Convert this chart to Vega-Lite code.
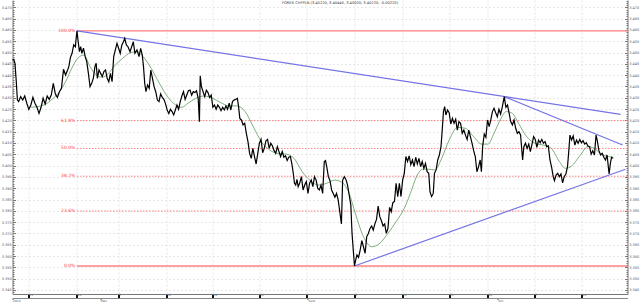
{
"$schema":"https://vega.github.io/schema/vega-lite/v6.json",
"width":615,"height":294,
"autosize":{"type":"none"},
"padding":{"left":12.5,"top":0,"right":12.5,"bottom":8},
"background":"white",
"config":{"view":{"stroke":null},"axis":{"labelFont":"DejaVu Sans","labelFontSize":3.5,"labelColor":"#555","domainColor":"#888","tickColor":"#888","labelOverlap":false,"labelBound":false,"labelFlush":false}},
"title":{"text":"FOREX CHFPLN (3.40220, 3.40440, 3.40020, 3.40220, -0.00220)","font":"DejaVu Sans","fontSize":3.6,"fontWeight":"normal","color":"#333","anchor":"middle","offset":-6,"dx":20},
"datasets":{
"price":[
{"bar":0,"price":3.4467},{"bar":3,"price":3.4470},{"bar":6,"price":3.4453},{"bar":9,"price":3.4379},{"bar":12,"price":3.4290},{"bar":15,"price":3.4283},{"bar":20,"price":3.4305},{"bar":25,"price":3.4290},{"bar":30,"price":3.4308},{"bar":35,"price":3.4276},{"bar":40,"price":3.4249},{"bar":45,"price":3.4268},{"bar":50,"price":3.4302},{"bar":55,"price":3.4276},{"bar":60,"price":3.4258},{"bar":65,"price":3.4231},{"bar":70,"price":3.4258},{"bar":75,"price":3.4298},{"bar":80,"price":3.4273},{"bar":85,"price":3.4308},{"bar":90,"price":3.4293},{"bar":95,"price":3.4312},{"bar":100,"price":3.4364},{"bar":105,"price":3.4317},{"bar":110,"price":3.4302},{"bar":115,"price":3.4327},{"bar":120,"price":3.4342},{"bar":125,"price":3.4426},{"bar":130,"price":3.4401},{"bar":135,"price":3.4423},{"bar":138,"price":3.4438},{"bar":142,"price":3.4479},{"bar":146,"price":3.4497},{"bar":150,"price":3.4534},{"bar":154,"price":3.4526},{"bar":156,"price":3.4563},{"bar":158,"price":3.4596},{"bar":161,"price":3.4548},{"bar":164,"price":3.4504},{"bar":167,"price":3.4526},{"bar":170,"price":3.4497},{"bar":174,"price":3.4520},{"bar":178,"price":3.4482},{"bar":182,"price":3.4460},{"bar":186,"price":3.4408},{"bar":190,"price":3.4349},{"bar":194,"price":3.4364},{"bar":198,"price":3.4386},{"bar":202,"price":3.4438},{"bar":205,"price":3.4453},{"bar":208,"price":3.4386},{"bar":212,"price":3.4423},{"bar":216,"price":3.4408},{"bar":220,"price":3.4394},{"bar":224,"price":3.4416},{"bar":228,"price":3.4423},{"bar":232,"price":3.4386},{"bar":236,"price":3.4371},{"bar":240,"price":3.4408},{"bar":244,"price":3.4371},{"bar":248,"price":3.4482},{"bar":252,"price":3.4512},{"bar":256,"price":3.4541},{"bar":260,"price":3.4519},{"bar":264,"price":3.4497},{"bar":268,"price":3.4534},{"bar":272,"price":3.4548},{"bar":275,"price":3.4563},{"bar":279,"price":3.4534},{"bar":283,"price":3.4526},{"bar":288,"price":3.4504},{"bar":292,"price":3.4526},{"bar":296,"price":3.4548},{"bar":300,"price":3.4497},{"bar":305,"price":3.4512},{"bar":310,"price":3.4482},{"bar":314,"price":3.4519},{"bar":318,"price":3.4489},{"bar":321,"price":3.4438},{"bar":324,"price":3.4364},{"bar":327,"price":3.4327},{"bar":331,"price":3.4357},{"bar":335,"price":3.4342},{"bar":339,"price":3.4423},{"bar":343,"price":3.4386},{"bar":347,"price":3.4349},{"bar":351,"price":3.4327},{"bar":355,"price":3.4290},{"bar":359,"price":3.4283},{"bar":363,"price":3.4317},{"bar":367,"price":3.4302},{"bar":371,"price":3.4293},{"bar":375,"price":3.4273},{"bar":379,"price":3.4246},{"bar":383,"price":3.4231},{"bar":387,"price":3.4249},{"bar":391,"price":3.4239},{"bar":395,"price":3.4224},{"bar":399,"price":3.4246},{"bar":403,"price":3.4268},{"bar":407,"price":3.4249},{"bar":411,"price":3.4283},{"bar":415,"price":3.4308},{"bar":419,"price":3.4327},{"bar":423,"price":3.4293},{"bar":427,"price":3.4312},{"bar":431,"price":3.4331},{"bar":435,"price":3.4334},{"bar":439,"price":3.4312},{"bar":443,"price":3.4327},{"bar":447,"price":3.4323},{"bar":451,"price":3.4331},{"bar":455,"price":3.4298},{"bar":458,"price":3.4194},{"bar":460,"price":3.4397},{"bar":463,"price":3.4349},{"bar":467,"price":3.4327},{"bar":471,"price":3.4305},{"bar":475,"price":3.4334},{"bar":479,"price":3.4323},{"bar":483,"price":3.4302},{"bar":487,"price":3.4312},{"bar":491,"price":3.4258},{"bar":495,"price":3.4268},{"bar":499,"price":3.4249},{"bar":503,"price":3.4268},{"bar":507,"price":3.4258},{"bar":511,"price":3.4243},{"bar":515,"price":3.4258},{"bar":519,"price":3.4246},{"bar":523,"price":3.4264},{"bar":527,"price":3.4249},{"bar":531,"price":3.4276},{"bar":535,"price":3.4246},{"bar":539,"price":3.4283},{"bar":543,"price":3.4290},{"bar":547,"price":3.4293},{"bar":551,"price":3.4298},{"bar":554,"price":3.4261},{"bar":557,"price":3.4209},{"bar":561,"price":3.4202},{"bar":565,"price":3.4180},{"bar":569,"price":3.4187},{"bar":573,"price":3.4143},{"bar":577,"price":3.4106},{"bar":581,"price":3.4054},{"bar":585,"price":3.4032},{"bar":589,"price":3.4076},{"bar":593,"price":3.4040},{"bar":597,"price":3.4007},{"bar":601,"price":3.4054},{"bar":605,"price":3.4099},{"bar":609,"price":3.4116},{"bar":613,"price":3.4057},{"bar":617,"price":3.4076},{"bar":621,"price":3.4110},{"bar":625,"price":3.4116},{"bar":629,"price":3.4076},{"bar":633,"price":3.4099},{"bar":637,"price":3.4087},{"bar":641,"price":3.4066},{"bar":645,"price":3.4054},{"bar":649,"price":3.4084},{"bar":653,"price":3.4062},{"bar":657,"price":3.4040},{"bar":661,"price":3.4062},{"bar":665,"price":3.4037},{"bar":669,"price":3.4043},{"bar":673,"price":3.4023},{"bar":677,"price":3.4037},{"bar":681,"price":3.4040},{"bar":685,"price":3.4003},{"bar":688,"price":3.3966},{"bar":691,"price":3.3922},{"bar":694,"price":3.3914},{"bar":697,"price":3.3939},{"bar":700,"price":3.3907},{"bar":704,"price":3.3924},{"bar":708,"price":3.3951},{"bar":712,"price":3.3892},{"bar":716,"price":3.3914},{"bar":720,"price":3.3929},{"bar":724,"price":3.3877},{"bar":728,"price":3.3922},{"bar":732,"price":3.3936},{"bar":736,"price":3.3907},{"bar":740,"price":3.3951},{"bar":744,"price":3.3936},{"bar":748,"price":3.3899},{"bar":752,"price":3.3892},{"bar":756,"price":3.3914},{"bar":760,"price":3.3877},{"bar":764,"price":3.4018},{"bar":767,"price":3.4022},{"bar":770,"price":3.3995},{"bar":774,"price":3.3951},{"bar":778,"price":3.3933},{"bar":782,"price":3.3892},{"bar":786,"price":3.3877},{"bar":790,"price":3.3860},{"bar":794,"price":3.3877},{"bar":798,"price":3.3848},{"bar":802,"price":3.3796},{"bar":806,"price":3.3742},{"bar":809,"price":3.3936},{"bar":813,"price":3.3951},{"bar":817,"price":3.3939},{"bar":821,"price":3.3914},{"bar":825,"price":3.3870},{"bar":829,"price":3.3826},{"bar":832,"price":3.3700},{"bar":835,"price":3.3627},{"bar":838,"price":3.3556},{"bar":841,"price":3.3583},{"bar":844,"price":3.3605},{"bar":848,"price":3.3594},{"bar":852,"price":3.3627},{"bar":856,"price":3.3668},{"bar":860,"price":3.3641},{"bar":864,"price":3.3612},{"bar":868,"price":3.3686},{"bar":872,"price":3.3700},{"bar":876,"price":3.3722},{"bar":880,"price":3.3733},{"bar":884,"price":3.3715},{"bar":888,"price":3.3742},{"bar":892,"price":3.3762},{"bar":896,"price":3.3821},{"bar":900,"price":3.3774},{"bar":904,"price":3.3756},{"bar":908,"price":3.3733},{"bar":912,"price":3.3742},{"bar":916,"price":3.3700},{"bar":920,"price":3.3722},{"bar":924,"price":3.3815},{"bar":928,"price":3.3796},{"bar":932,"price":3.3836},{"bar":936,"price":3.3841},{"bar":940,"price":3.3922},{"bar":944,"price":3.3863},{"bar":948,"price":3.3922},{"bar":952,"price":3.3863},{"bar":956,"price":3.3936},{"bar":960,"price":3.3966},{"bar":964,"price":3.4040},{"bar":968,"price":3.4018},{"bar":972,"price":3.4043},{"bar":976,"price":3.4004},{"bar":980,"price":3.4025},{"bar":984,"price":3.3995},{"bar":988,"price":3.4037},{"bar":992,"price":3.4007},{"bar":996,"price":3.4032},{"bar":1000,"price":3.3995},{"bar":1004,"price":3.4018},{"bar":1008,"price":3.3988},{"bar":1012,"price":3.4010},{"bar":1016,"price":3.3973},{"bar":1020,"price":3.3966},{"bar":1023,"price":3.3885},{"bar":1027,"price":3.3863},{"bar":1031,"price":3.3877},{"bar":1034,"price":3.3966},{"bar":1038,"price":3.3981},{"bar":1042,"price":3.4025},{"bar":1046,"price":3.4047},{"bar":1050,"price":3.4084},{"bar":1053,"price":3.4157},{"bar":1056,"price":3.4239},{"bar":1059,"price":3.4261},{"bar":1062,"price":3.4224},{"bar":1066,"price":3.4246},{"bar":1070,"price":3.4234},{"bar":1074,"price":3.4184},{"bar":1078,"price":3.4209},{"bar":1082,"price":3.4187},{"bar":1086,"price":3.4205},{"bar":1090,"price":3.4157},{"bar":1094,"price":3.4194},{"bar":1098,"price":3.4187},{"bar":1102,"price":3.4143},{"bar":1106,"price":3.4157},{"bar":1110,"price":3.4135},{"bar":1114,"price":3.4116},{"bar":1118,"price":3.4157},{"bar":1122,"price":3.4128},{"bar":1126,"price":3.4099},{"bar":1130,"price":3.4066},{"bar":1134,"price":3.4040},{"bar":1138,"price":3.3973},{"bar":1142,"price":3.3995},{"bar":1146,"price":3.4025},{"bar":1149,"price":3.3973},{"bar":1152,"price":3.4084},{"bar":1156,"price":3.4140},{"bar":1160,"price":3.4125},{"bar":1164,"price":3.4202},{"bar":1168,"price":3.4172},{"bar":1172,"price":3.4202},{"bar":1176,"price":3.4239},{"bar":1180,"price":3.4254},{"bar":1184,"price":3.4234},{"bar":1188,"price":3.4216},{"bar":1192,"price":3.4249},{"bar":1196,"price":3.4228},{"bar":1200,"price":3.4258},{"bar":1205,"price":3.4305},{"bar":1209,"price":3.4258},{"bar":1213,"price":3.4268},{"bar":1217,"price":3.4231},{"bar":1221,"price":3.4194},{"bar":1225,"price":3.4180},{"bar":1229,"price":3.4202},{"bar":1233,"price":3.4165},{"bar":1237,"price":3.4143},{"bar":1241,"price":3.4150},{"bar":1245,"price":3.4136},{"bar":1248,"price":3.4069},{"bar":1250,"price":3.4025},{"bar":1253,"price":3.4084},{"bar":1257,"price":3.4099},{"bar":1261,"price":3.4076},{"bar":1265,"price":3.4095},{"bar":1269,"price":3.4062},{"bar":1273,"price":3.4095},{"bar":1277,"price":3.4128},{"bar":1281,"price":3.4116},{"bar":1285,"price":3.4081},{"bar":1289,"price":3.4113},{"bar":1293,"price":3.4101},{"bar":1297,"price":3.4116},{"bar":1301,"price":3.4099},{"bar":1305,"price":3.4106},{"bar":1309,"price":3.4084},{"bar":1313,"price":3.4087},{"bar":1317,"price":3.4025},{"bar":1321,"price":3.3993},{"bar":1325,"price":3.3951},{"bar":1328,"price":3.3933},{"bar":1332,"price":3.3958},{"bar":1336,"price":3.3966},{"bar":1340,"price":3.3951},{"bar":1344,"price":3.3963},{"bar":1348,"price":3.3924},{"bar":1352,"price":3.3951},{"bar":1356,"price":3.3963},{"bar":1360,"price":3.3995},{"bar":1363,"price":3.4062},{"bar":1366,"price":3.4135},{"bar":1370,"price":3.4113},{"bar":1374,"price":3.4131},{"bar":1378,"price":3.4091},{"bar":1382,"price":3.4113},{"bar":1386,"price":3.4099},{"bar":1390,"price":3.4116},{"bar":1394,"price":3.4101},{"bar":1398,"price":3.4110},{"bar":1402,"price":3.4095},{"bar":1406,"price":3.4101},{"bar":1410,"price":3.4087},{"bar":1414,"price":3.4084},{"bar":1418,"price":3.4051},{"bar":1422,"price":3.4066},{"bar":1426,"price":3.4047},{"bar":1430,"price":3.4135},{"bar":1433,"price":3.4110},{"bar":1437,"price":3.4066},{"bar":1441,"price":3.4047},{"bar":1445,"price":3.4054},{"bar":1449,"price":3.4037},{"bar":1453,"price":3.4025},{"bar":1457,"price":3.4047},{"bar":1460,"price":3.3995},{"bar":1462,"price":3.3963},{"bar":1465,"price":3.4010},{"bar":1468,"price":3.4037},{"bar":1472,"price":3.4032}
],
"ma":[
{"bar":45,"price":3.4258},{"bar":70,"price":3.4264},{"bar":85,"price":3.4276},{"bar":100,"price":3.4298},{"bar":115,"price":3.4327},{"bar":130,"price":3.4371},{"bar":145,"price":3.4430},{"bar":160,"price":3.4475},{"bar":175,"price":3.4489},{"bar":190,"price":3.4438},{"bar":205,"price":3.4401},{"bar":220,"price":3.4391},{"bar":235,"price":3.4408},{"bar":250,"price":3.4441},{"bar":270,"price":3.4475},{"bar":290,"price":3.4500},{"bar":305,"price":3.4504},{"bar":320,"price":3.4482},{"bar":340,"price":3.4430},{"bar":360,"price":3.4364},{"bar":380,"price":3.4305},{"bar":400,"price":3.4268},{"bar":415,"price":3.4258},{"bar":430,"price":3.4276},{"bar":450,"price":3.4298},{"bar":470,"price":3.4308},{"bar":490,"price":3.4298},{"bar":510,"price":3.4279},{"bar":530,"price":3.4264},{"bar":550,"price":3.4264},{"bar":570,"price":3.4239},{"bar":590,"price":3.4172},{"bar":610,"price":3.4106},{"bar":630,"price":3.4069},{"bar":650,"price":3.4054},{"bar":670,"price":3.4051},{"bar":690,"price":3.4032},{"bar":710,"price":3.3973},{"bar":730,"price":3.3933},{"bar":750,"price":3.3914},{"bar":770,"price":3.3922},{"bar":790,"price":3.3936},{"bar":810,"price":3.3922},{"bar":825,"price":3.3877},{"bar":840,"price":3.3789},{"bar":860,"price":3.3686},{"bar":880,"price":3.3641},{"bar":900,"price":3.3656},{"bar":920,"price":3.3700},{"bar":940,"price":3.3752},{"bar":960,"price":3.3811},{"bar":975,"price":3.3877},{"bar":990,"price":3.3951},{"bar":1005,"price":3.3984},{"bar":1020,"price":3.3984},{"bar":1035,"price":3.3981},{"bar":1050,"price":3.4025},{"bar":1070,"price":3.4113},{"bar":1090,"price":3.4169},{"bar":1110,"price":3.4165},{"bar":1130,"price":3.4128},{"bar":1150,"price":3.4095},{"bar":1165,"price":3.4095},{"bar":1180,"price":3.4143},{"bar":1195,"price":3.4202},{"bar":1210,"price":3.4239},{"bar":1225,"price":3.4231},{"bar":1240,"price":3.4187},{"bar":1260,"price":3.4128},{"bar":1280,"price":3.4099},{"bar":1300,"price":3.4091},{"bar":1320,"price":3.4077},{"bar":1340,"price":3.4018},{"bar":1355,"price":3.3988},{"bar":1370,"price":3.3998},{"bar":1390,"price":3.4043},{"bar":1410,"price":3.4084},{"bar":1425,"price":3.4077},{"bar":1440,"price":3.4054},{"bar":1460,"price":3.4040},{"bar":1472,"price":3.4037}
],
"trend":[
{"line":"a","bar":158,"price":3.4596},{"line":"a","bar":1490,"price":3.4227},
{"line":"b","bar":1205,"price":3.4305},{"line":"b","bar":1495,"price":3.4091},
{"line":"c","bar":838,"price":3.3556},{"line":"c","bar":1502,"price":3.3984}
],
"fibSolid":[
{"level":"100.0%","bar":158,"price":3.4596},{"level":"100.0%","bar":1507,"price":3.4596},
{"level":"0.0%","bar":158,"price":3.3556},{"level":"0.0%","bar":1507,"price":3.3556}
],
"fibDot":[
{"level":"61.8%","bar":158,"price":3.4199},{"level":"61.8%","bar":1507,"price":3.4199},
{"level":"50.0%","bar":158,"price":3.4076},{"level":"50.0%","bar":1507,"price":3.4076},
{"level":"38.2%","bar":158,"price":3.3953},{"level":"38.2%","bar":1507,"price":3.3953},
{"level":"23.6%","bar":158,"price":3.3799},{"level":"23.6%","bar":1507,"price":3.3799}
],
"fibLabel":[
{"level":"100.0%","bar":154,"price":3.4596},{"level":"61.8%","bar":154,"price":3.4199},{"level":"50.0%","bar":154,"price":3.4076},{"level":"38.2%","bar":154,"price":3.3953},{"level":"23.6%","bar":154,"price":3.3799},{"level":"0.0%","bar":154,"price":3.3556}
]
},
"resolve":{"axis":{"x":"independent","y":"independent"}},
"layer":[
{"data":{"name":"fibSolid"},"mark":{"type":"line","color":"#ff8080","strokeWidth":1.4},
"encoding":{"x":{"field":"bar","type":"quantitative","scale":{"domain":[0,1507],"nice":false,"zero":false},
"axis":{"orient":"bottom","values":[40,158,260,378,490,605,720,838,955,1070,1165,1280,1395],"labelExpr":"['21','28','5','12','19','26','2','9','16','23','30','7','14'][indexof([40,158,260,378,490,605,720,838,955,1070,1165,1280,1395],datum.value)]","title":null,"grid":true,"gridColor":"#e4e4e4","gridDash":[2,2],"tickColor":"#111","tickWidth":2,"tickSize":4,"labelAlign":"left","labelDx":2,"labelPadding":-4.5,"labelFontSize":3,"domainColor":"#777"}},
"y":{"field":"price","type":"quantitative","scale":{"domain":[3.34319,3.47327],"nice":false,"zero":false},
"axis":{"orient":"left","tickCount":130,"title":null,"labelExpr":"abs(round(datum.value*1000)) % 5 == 0 ? format(datum.value,'.3f') : ''","tickSize":{"condition":{"test":"abs(round(datum.value*1000)) % 5 == 0","value":-3},"value":-1.5},"grid":true,"gridColor":"#e6e6e6","gridDash":[2,2],"gridOpacity":{"condition":{"test":"abs(round(datum.value*1000)) % 5 == 0","value":1},"value":0},"labelPadding":4.2,"domainColor":"#777","tickColor":"#777"}},
"detail":{"field":"level"}}},
{"data":{"name":"fibDot"},"mark":{"type":"line","color":"#ff8080","strokeWidth":1,"strokeDash":[1.5,1.5]},
"encoding":{"x":{"field":"bar","type":"quantitative","axis":null},"y":{"field":"price","type":"quantitative","axis":{"orient":"right","tickCount":130,"title":null,"labelExpr":"abs(round(datum.value*1000)) % 5 == 0 ? format(datum.value,'.3f') : ''","tickSize":{"condition":{"test":"abs(round(datum.value*1000)) % 5 == 0","value":-3},"value":-1.5},"grid":false,"labelPadding":4.2,"domainColor":"#777","tickColor":"#777"}},"detail":{"field":"level"}}},
{"data":{"name":"fibLabel"},"mark":{"type":"text","color":"#ff4040","fontSize":4.5,"font":"DejaVu Sans","align":"right","baseline":"middle"},
"encoding":{"x":{"field":"bar","type":"quantitative","axis":{"orient":"bottom","offset":4,"values":[0,215,724,1189],"labelExpr":"['2014','May','June','July'][indexof([0,215,724,1189],datum.value)]","title":null,"grid":false,"ticks":true,"tickSize":1.5,"tickColor":"#555","labelAlign":"left","labelPadding":-0.5,"labelFontSize":3,"domainColor":"#888"}},"y":{"field":"price","type":"quantitative","axis":null},"text":{"field":"level"}}},
{"data":{"name":"trend"},"mark":{"type":"line","color":"#7474e6","strokeWidth":1.2},
"encoding":{"x":{"field":"bar","type":"quantitative","axis":null},"y":{"field":"price","type":"quantitative","axis":null},"detail":{"field":"line"}}},
{"data":{"name":"ma"},"mark":{"type":"line","color":"#5c9a5c","strokeWidth":0.8,"interpolate":"monotone"},
"encoding":{"x":{"field":"bar","type":"quantitative","axis":null},"y":{"field":"price","type":"quantitative","axis":null}}},
{"data":{"name":"price"},"mark":{"type":"line","color":"#000","strokeWidth":1.2},
"encoding":{"x":{"field":"bar","type":"quantitative","axis":null},"y":{"field":"price","type":"quantitative","axis":null}}}
]
}
